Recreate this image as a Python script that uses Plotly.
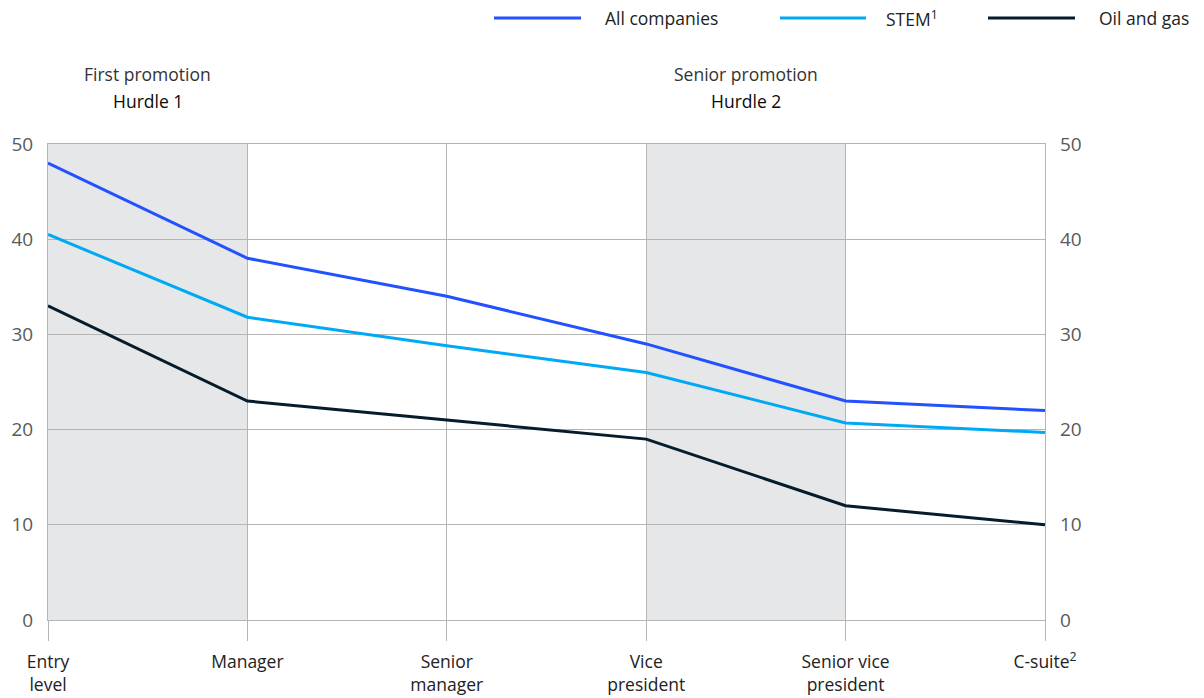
import plotly.graph_objects as go

# Career levels along the pipeline
levels = ["Entry<br>level", "Manager", "Senior<br>manager", "Vice<br>president",
          "Senior vice<br>president", "C-suite<sup>2</sup>"]

# Share of women at each level, %
all_companies = [48, 38, 34, 29, 23, 22]
stem = [40.5, 31.8, 28.8, 26, 20.7, 19.7]
oil_and_gas = [33, 23, 21, 19, 12, 10]

series_names = ["All companies", "STEM<sup>1</sup>", "Oil and gas"]
series_colors = ["#2251ff", "#00a9f4", "#051c2c"]
series_values = [all_companies, stem, oil_and_gas]

y_ticks = [0, 10, 20, 30, 40, 50]

FONT = "Open Sans"
GRID = "#b5b5b5"

fig = go.Figure()
for name, color, vals in zip(series_names, series_colors, series_values):
    fig.add_trace(go.Scatter(
        x=levels, y=vals, mode="lines", name=name,
        line=dict(color=color, width=3), showlegend=False,
    ))

# Shaded hurdle bands (first promotion, senior promotion)
for x0, x1 in [(0, 1), (3, 4)]:
    fig.add_shape(type="rect", xref="x", yref="y", x0=x0, x1=x1, y0=0, y1=50,
                  fillcolor="#e6e7e9", line=dict(width=0), layer="below")

# Hurdle labels
for xc, top, bottom in [(0.5, "First promotion", "Hurdle 1"),
                        (3.5, "Senior promotion", "Hurdle 2")]:
    fig.add_annotation(x=xc, xref="x", y=1.147, yref="paper", yanchor="middle",
                       text=top, showarrow=False,
                       font=dict(size=17.5, color="#333333", family=FONT))
    fig.add_annotation(x=xc, xref="x", y=1.091, yref="paper", yanchor="middle",
                       text=bottom, showarrow=False,
                       font=dict(size=17.5, color="#0a0a0a", family=FONT))

# Legend drawn across the top right
legend_items = [(494, 581, 603), (780, 866, 884), (988, 1075, 1097)]
plot_left, plot_w, plot_bottom, plot_h = 48, 997, 620, 476
leg_y = (plot_bottom - 18) / plot_h
for (lx0, lx1, tx), name, color in zip(legend_items, series_names, series_colors):
    fig.add_shape(type="line", xref="paper", yref="paper",
                  x0=(lx0 - plot_left) / plot_w, x1=(lx1 - plot_left) / plot_w,
                  y0=leg_y, y1=leg_y, line=dict(color=color, width=3))
    fig.add_annotation(x=(tx - plot_left) / plot_w, xref="paper", y=leg_y, yref="paper",
                       text=name, showarrow=False, xanchor="left", yanchor="middle",
                       font=dict(size=17.5, color="#222222", family=FONT))

fig.update_layout(
    width=1204, height=698,
    margin=dict(l=48, r=159, t=144, b=78, autoexpand=False),
    plot_bgcolor="white", paper_bgcolor="white",
    font=dict(family=FONT, size=17.5, color="#333333"),
    xaxis=dict(
        type="category", range=[0, 5], showgrid=True, gridcolor=GRID, gridwidth=1,
        ticks="outside", ticklen=20, tickcolor=GRID, tickwidth=1,
        showline=True, linecolor=GRID, mirror=True, zeroline=False,
        automargin=False, ticklabelstandoff=6,
        tickfont=dict(size=17.5, color="#222222", family=FONT),
    ),
    yaxis=dict(
        range=[0, 50], tickvals=y_ticks, showgrid=True, gridcolor=GRID, gridwidth=1,
        showline=True, linecolor=GRID, mirror=True, zeroline=False,
        automargin=False, ticks="", ticklabelstandoff=10,
        tickfont=dict(size=19, color="#5a5a5a", family=FONT),
    ),
    yaxis2=dict(
        range=[0, 50], tickvals=y_ticks, overlaying="y", side="right",
        showgrid=False, zeroline=False, showline=False, ticks="",
        automargin=False, ticklabelstandoff=14,
        tickfont=dict(size=19, color="#5a5a5a", family=FONT),
    ),
)

# Invisible companion trace so the right-hand axis is rendered
fig.add_trace(go.Scatter(x=levels, y=all_companies, yaxis="y2", mode="lines",
                         line=dict(width=0), hoverinfo="skip", showlegend=False,
                         opacity=0))

fig.write_html("out.html")
